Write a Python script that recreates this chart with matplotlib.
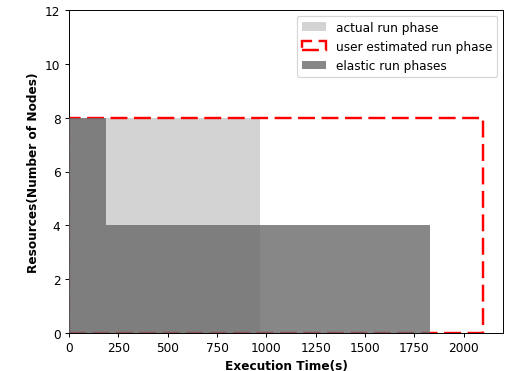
import matplotlib
matplotlib.use('Agg')
import matplotlib.pyplot as plt
from matplotlib.patches import Rectangle

# actual run phase
actual_end = 970
actual_nodes = 8
# user estimate
estimated_end = 2100
estimated_nodes = 8
# elastic phases: start, end, nodes
elastic_start = [0, 190]
elastic_end = [190, 1830]
elastic_nodes = [8, 4]

dpi = 87
fig, ax = plt.subplots(figsize=(506 / dpi, 372 / dpi), dpi=dpi)

b1 = ax.bar(0, actual_nodes, width=actual_end, align='edge', color='lightgray',
            label='actual run phase', zorder=1)
r = Rectangle((0, 0), estimated_end, estimated_nodes, fill=False,
              edgecolor='red', linewidth=2, linestyle=(0, (7, 2.7)),
              label='user estimated run phase', zorder=2)
ax.add_patch(r)
widths = [e - s for s, e in zip(elastic_start, elastic_end)]
b2 = ax.bar(elastic_start, elastic_nodes, width=widths, align='edge', color='dimgray',
            alpha=0.8, label='elastic run phases', zorder=3)

ax.set_xlim(0, 2200)
ax.set_ylim(0, 12)
ax.set_xlabel('Execution Time(s)', fontweight='bold')
ax.set_ylabel('Resources(Number of Nodes)', fontweight='bold')
ax.legend(handles=[b1, r, b2], loc='upper right')

fig.subplots_adjust(left=69 / 506, right=503 / 506, bottom=1 - 334 / 372, top=1 - 11 / 372)
plt.savefig('out.png', dpi=dpi)
